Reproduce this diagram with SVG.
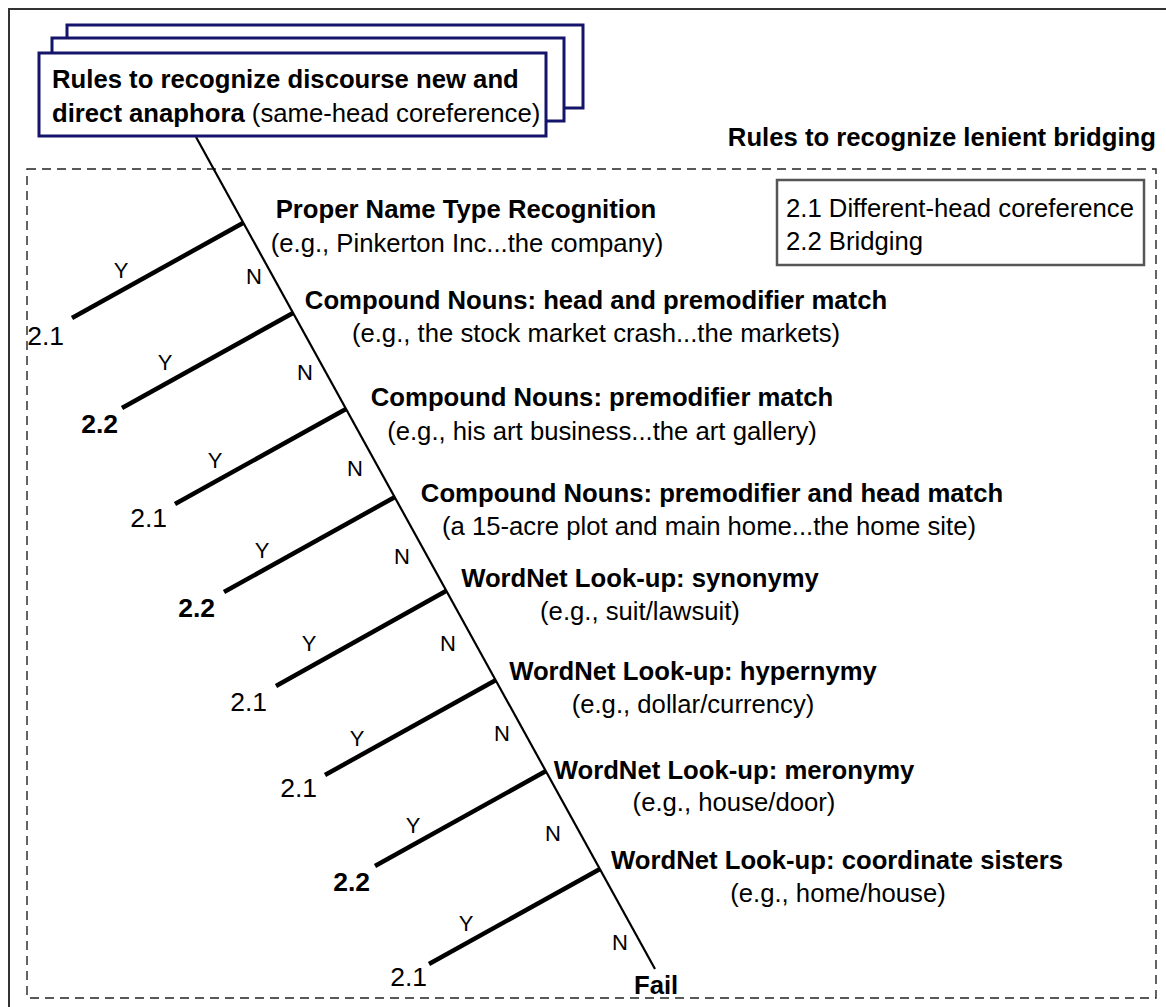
<svg xmlns="http://www.w3.org/2000/svg" width="1166" height="1007" viewBox="0 0 1166 1007">
  <style>
    text { font-family: "Liberation Sans", Arial, Helvetica, sans-serif; fill: #000; }
    .b { font-weight: bold; font-size: 25.7px; }
    .r { font-size: 25.7px; }
    .o { font-size: 26.5px; }
    .ob { font-size: 26.5px; font-weight: bold; }
    .yn { font-size: 22px; }
    .c { text-anchor: middle; }
    .e { text-anchor: end; }
    .stack { fill: #fff; stroke: #14146b; stroke-width: 3; }
    .trunk { stroke: #000; stroke-width: 2.2; fill: none; }
    .branch { stroke: #000; stroke-width: 4.5; fill: none; }
  </style>

  <!-- outer frame (runs past the right and bottom edges) -->
  <path d="M9,1007 V9 H1166" fill="none" stroke="#333" stroke-width="2"/>

  <!-- region for the lenient bridging rules -->
  <g id="bridging-region">
    <rect x="27" y="169" width="1129" height="829" fill="none" stroke="#222" stroke-width="1.4" stroke-dasharray="9 6"/>
    <text class="b e" x="1156" y="146">Rules to recognize lenient bridging</text>
  </g>

  <!-- legend -->
  <g id="legend">
    <rect x="777" y="180" width="367" height="85" fill="#fff" stroke="#555" stroke-width="2.5"/>
    <text class="r" x="786" y="217">2.1 Different-head coreference</text>
    <text class="r" x="786" y="250">2.2 Bridging</text>
  </g>

  <!-- connectors: decision trunk and Y branches -->
  <g id="connectors">
    <line class="trunk" x1="196" y1="137" x2="655" y2="969"/>
    <line class="branch" x1="243" y1="223" x2="72" y2="318"/>
    <line class="branch" x1="293" y1="313" x2="122" y2="408"/>
    <line class="branch" x1="346" y1="409" x2="175" y2="504"/>
    <line class="branch" x1="395" y1="497" x2="224" y2="592"/>
    <line class="branch" x1="446" y1="591" x2="276" y2="686"/>
    <line class="branch" x1="496" y1="680" x2="325" y2="775"/>
    <line class="branch" x1="546" y1="771" x2="375" y2="866"/>
    <line class="branch" x1="600" y1="869" x2="429" y2="964"/>

    <!-- Y / N edge labels -->
    <g>
      <text class="yn c" x="121" y="278">Y</text>
      <text class="yn c" x="165" y="370">Y</text>
      <text class="yn c" x="215" y="468">Y</text>
      <text class="yn c" x="262" y="558">Y</text>
      <text class="yn c" x="309" y="651">Y</text>
      <text class="yn c" x="357" y="746">Y</text>
      <text class="yn c" x="413" y="833">Y</text>
      <text class="yn c" x="466" y="931">Y</text>
      <text class="yn c" x="254" y="284">N</text>
      <text class="yn c" x="305" y="380">N</text>
      <text class="yn c" x="355" y="476">N</text>
      <text class="yn c" x="402" y="564">N</text>
      <text class="yn c" x="448" y="651">N</text>
      <text class="yn c" x="502" y="741">N</text>
      <text class="yn c" x="553" y="841">N</text>
      <text class="yn c" x="620" y="950">N</text>
    </g>
  </g>

  <!-- stacked start box -->
  <g id="start">
    <rect class="stack" x="67" y="25" width="516" height="83"/>
    <rect class="stack" x="52" y="38" width="512" height="83"/>
    <rect class="stack" x="39" y="53" width="507" height="83"/>
    <text class="b" x="52" y="88">Rules to recognize discourse new and</text>
    <text x="52" y="122"><tspan class="b">direct anaphora</tspan><tspan class="r"> (same-head coreference)</tspan></text>
  </g>

  <!-- rule tests along the trunk -->
  <g id="rule1">
    <text class="b c" x="466" y="218">Proper Name Type Recognition</text>
    <text class="r c" x="467" y="252">(e.g., Pinkerton Inc...the company)</text>
  </g>
  <g id="rule2">
    <text class="b c" x="596" y="309">Compound Nouns: head and premodifier match</text>
    <text class="r c" x="596" y="342">(e.g., the stock market crash...the markets)</text>
  </g>
  <g id="rule3">
    <text class="b c" x="602" y="406">Compound Nouns: premodifier match</text>
    <text class="r c" x="602" y="440">(e.g., his art business...the art gallery)</text>
  </g>
  <g id="rule4">
    <text class="b c" x="712" y="502">Compound Nouns: premodifier and head match</text>
    <text class="r c" x="709" y="535">(a 15-acre plot and main home...the home site)</text>
  </g>
  <g id="rule5">
    <text class="b c" x="640" y="587">WordNet Look-up: synonymy</text>
    <text class="r c" x="640" y="620">(e.g., suit/lawsuit)</text>
  </g>
  <g id="rule6">
    <text class="b c" x="693" y="680">WordNet Look-up: hypernymy</text>
    <text class="r c" x="693" y="713">(e.g., dollar/currency)</text>
  </g>
  <g id="rule7">
    <text class="b c" x="734" y="779">WordNet Look-up: meronymy</text>
    <text class="r c" x="734" y="811">(e.g., house/door)</text>
  </g>
  <g id="rule8">
    <text class="b c" x="837" y="869">WordNet Look-up: coordinate sisters</text>
    <text class="r c" x="838" y="902">(e.g., home/house)</text>
  </g>

  <!-- outcomes -->
  <g id="out1"><text class="o e" x="64" y="345">2.1</text></g>
  <g id="out2"><text class="ob e" x="118" y="433">2.2</text></g>
  <g id="out3"><text class="o e" x="167" y="527">2.1</text></g>
  <g id="out4"><text class="ob e" x="215" y="617">2.2</text></g>
  <g id="out5"><text class="o e" x="267" y="711">2.1</text></g>
  <g id="out6"><text class="o e" x="317" y="797">2.1</text></g>
  <g id="out7"><text class="ob e" x="370" y="891">2.2</text></g>
  <g id="out8"><text class="o e" x="427" y="986">2.1</text></g>
  <g id="fail"><text class="b" x="634" y="994">Fail</text></g>
</svg>
